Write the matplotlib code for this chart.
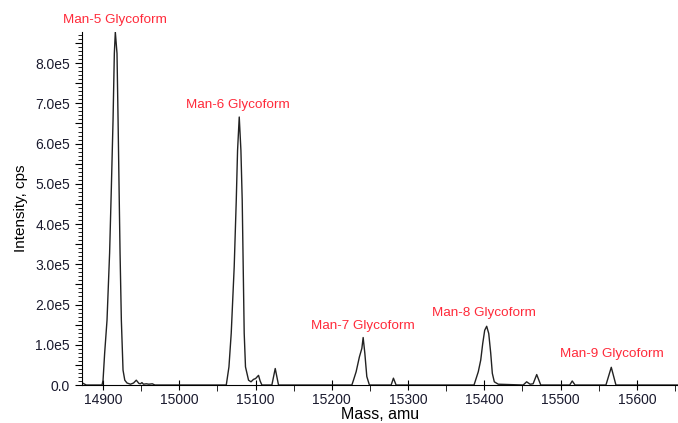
import matplotlib.pyplot as plt
from matplotlib.ticker import MultipleLocator, FuncFormatter

plt.rcParams['font.family'] = ['Liberation Sans', 'DejaVu Sans']

# spectre deconvolue (masse en amu, intensite en unites de 1e5 cps)
masse = [14872, 14874, 14876, 14878,
         14898.7, 14900, 14902.1, 14905.2, 14908.6, 14910.9, 14913.1, 14914.8, 14916.1,
         14918.3, 14919.7, 14921.0, 14922.3, 14924.0, 14926.2, 14928.5, 14931.4, 14936,
         14940, 14943.6, 14947, 14949, 14951, 14953, 14956.7, 14960, 14964.6, 14968,
         15061.6, 15065.1, 15068.1, 15072.0, 15074.7, 15076.4, 15078.6, 15080.8, 15082.5,
         15083.8, 15085.1, 15086.8, 15090.8, 15094, 15097.3, 15100, 15103.9, 15106, 15108.3,
         15121.4, 15125.8, 15130.1,
         15226.3, 15228.4, 15231.9, 15236.2, 15239.4, 15241.1, 15243.3, 15245.9, 15249.3,
         15277.8, 15280.8, 15284.3,
         15386.5, 15392.1, 15395.3, 15397.9, 15400.5, 15403.1, 15405.8, 15408.4, 15410.5,
         15413.1, 15418.3,
         15451, 15455.5, 15460, 15464, 15468.7, 15474,
         15512, 15515.3, 15519,
         15559.5, 15566.5, 15572.6, 15654]
intensite = [0.06, 0.04, 0.02, 0.0,
             0.0, 0.12, 0.79, 1.61, 3.28, 4.91, 6.58, 8.24, 8.77,
             8.24, 6.58, 4.91, 3.28, 1.61, 0.37, 0.12, 0.05, 0.02,
             0.05, 0.12, 0.04, 0.03, 0.06, 0.02, 0.03, 0.02, 0.03, 0.0,
             0.0, 0.45, 1.29, 2.94, 4.59, 5.83, 6.66, 5.83, 4.59,
             2.94, 1.29, 0.45, 0.12, 0.08, 0.14, 0.16, 0.24, 0.10, 0.0,
             0.0, 0.41, 0.0,
             0.0, 0.12, 0.33, 0.70, 0.91, 1.18, 0.79, 0.21, 0.0,
             0.0, 0.17, 0.0,
             0.0, 0.33, 0.62, 1.03, 1.36, 1.46, 1.28, 0.79, 0.29,
             0.08, 0.02,
             0.0, 0.08, 0.02, 0.03, 0.26, 0.0,
             0.0, 0.10, 0.0,
             0.0, 0.44, 0.0, 0.0]

# etiquettes des glycoformes (position du texte)
etiquettes = ['Man-5 Glycoform', 'Man-6 Glycoform', 'Man-7 Glycoform',
              'Man-8 Glycoform', 'Man-9 Glycoform']
etiquettes_x = [14915, 15076.6, 15240.8, 15399.4, 15567]
etiquettes_y = [9.08, 6.97, 1.46, 1.80, 0.77]

fig = plt.figure(figsize=(6.78, 4.23), dpi=100)
ax = fig.add_axes([0.1205, 0.0898, 0.8795, 0.8352])

ax.plot(masse, [v * 1e5 for v in intensite], color='#222222', lw=1.0)

for txt, x, y in zip(etiquettes, etiquettes_x, etiquettes_y):
    ax.text(x, y * 1e5, txt, color='#ff2a3a', fontsize=9.7, ha='center', va='center',
            clip_on=False)

ax.set_xlim(14872, 15654)
ax.set_ylim(0, 8.78e5)

ax.spines['top'].set_visible(False)
ax.spines['right'].set_visible(False)

ax.xaxis.set_major_locator(MultipleLocator(100))
ax.xaxis.set_minor_locator(MultipleLocator(50))
ax.yaxis.set_major_locator(MultipleLocator(5e4))
ax.yaxis.set_minor_locator(MultipleLocator(1e4))


def fmt_y(v, pos):
    n = int(round(v / 5e4))
    if n % 2:
        return ''
    if n == 0:
        return '0.0'
    return '%.1fe5' % (v / 1e5)


ax.yaxis.set_major_formatter(FuncFormatter(fmt_y))

ax.tick_params(axis='x', which='major', direction='inout', length=7, labelsize=10,
               labelcolor='#1a1a2e', pad=2)
ax.tick_params(axis='x', which='minor', direction='out', length=4)
ax.tick_params(axis='y', which='major', direction='out', length=5, labelsize=10,
               labelcolor='#1a1a2e')
ax.tick_params(axis='y', which='minor', direction='out', length=3)

ax.set_xlabel('Mass, amu', fontsize=11.5, labelpad=0)
ax.set_ylabel('Intensity, cps', fontsize=11, labelpad=5)

fig.savefig('out.png', dpi=100)
